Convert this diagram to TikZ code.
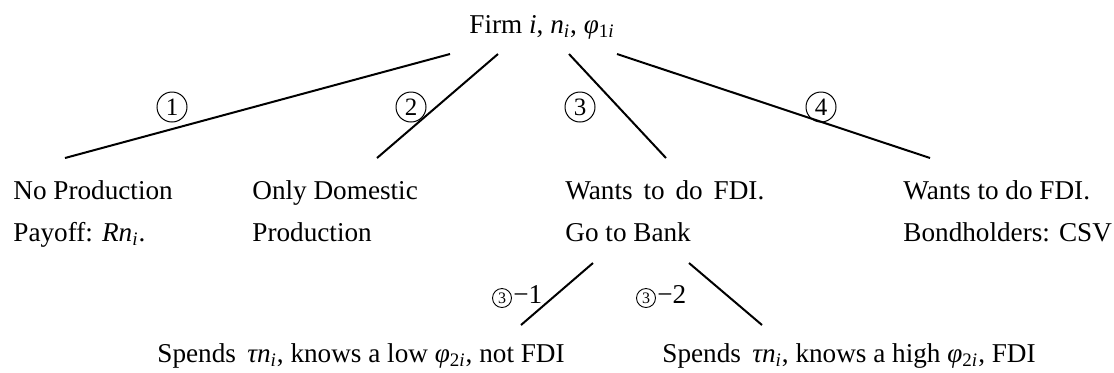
\documentclass[tikz,border=0pt]{standalone}
\usepackage{fontspec}
\setmainfont{Liberation Serif}
\newcommand\subx[1]{\textsubscript{#1}}
\begin{document}
\begin{tikzpicture}[x=0.5pt,y=-0.5pt,
  txt/.style={anchor=base west,inner sep=0,font=\fontsize{13.6}{16}\selectfont},
  circ/.style={circle,draw,line width=0.5pt,inner sep=0,minimum size=15pt,font=\fontsize{12.5}{13}\selectfont},
  subcirc/.style={circle,draw,line width=0.45pt,inner sep=0,minimum size=9.5pt,font=\fontsize{8}{9}\selectfont},
  branch/.style={line width=1pt}]
\useasboundingbox (0,0) rectangle (1114,372);

% root
\node[txt] (root) at (469,33) {Firm \textit{i}, \textit{n}\subx{\textit{i}}, \textit{φ}\subx{1\textit{i}}};

% first level outcomes
\node[txt] (np1) at (13,199) {No Production};
\node[txt] (np2) at (13,241) {Payoff: \textit{Rn}\subx{\textit{i}}.};
\node[txt] (od1) at (252,199) {Only Domestic};
\node[txt] (od2) at (252,241) {Production};
\node[txt] (fb1) at (565,199) {\spaceskip=0.4em Wants to do FDI.};
\node[txt] (fb2) at (565,241) {Go to Bank};
\node[txt] (bh1) at (903,199) {Wants to do FDI.};
\node[txt] (bh2) at (903,241) {Bondholders: CSV};

% second level outcomes
\node[txt] (lo) at (157,362) {Spends \,\textit{τn}\subx{\textit{i}}, knows a low \textit{φ}\subx{2\textit{i}}, not FDI};
\node[txt] (hi) at (662,362) {Spends \,\textit{τn}\subx{\textit{i}}, knows a high \textit{φ}\subx{2\textit{i}}, FDI};

% branch end points
\coordinate (t1) at (450,54);  \coordinate (b1) at (65,158);
\coordinate (t2) at (498,54);  \coordinate (b2) at (377,158);
\coordinate (t3) at (569,54);  \coordinate (b3) at (666,158);
\coordinate (t4) at (617,54);  \coordinate (b4) at (930,158);
\coordinate (s1) at (593,263); \coordinate (e1) at (521,325);
\coordinate (s2) at (689,263); \coordinate (e2) at (762,325);

\draw[branch] (t1) -- (b1);
\draw[branch] (t2) -- (b2);
\draw[branch] (t3) -- (b3);
\draw[branch] (t4) -- (b4);
\draw[branch] (s1) -- (e1);
\draw[branch] (s2) -- (e2);

% branch labels
\node[circ] (c1) at (172,107) {1};
\node[circ] (c2) at (411,107) {2};
\node[circ] (c3) at (580,107) {3};
\node[circ] (c4) at (821,107) {4};

\node[subcirc] (c31) at (502,298) {3};
\node[txt,anchor=base west] (n31) at (513,303) {−1};
\node[subcirc] (c32) at (646,298) {3};
\node[txt,anchor=base west] (n32) at (657,303) {−2};
\end{tikzpicture}
\end{document}
